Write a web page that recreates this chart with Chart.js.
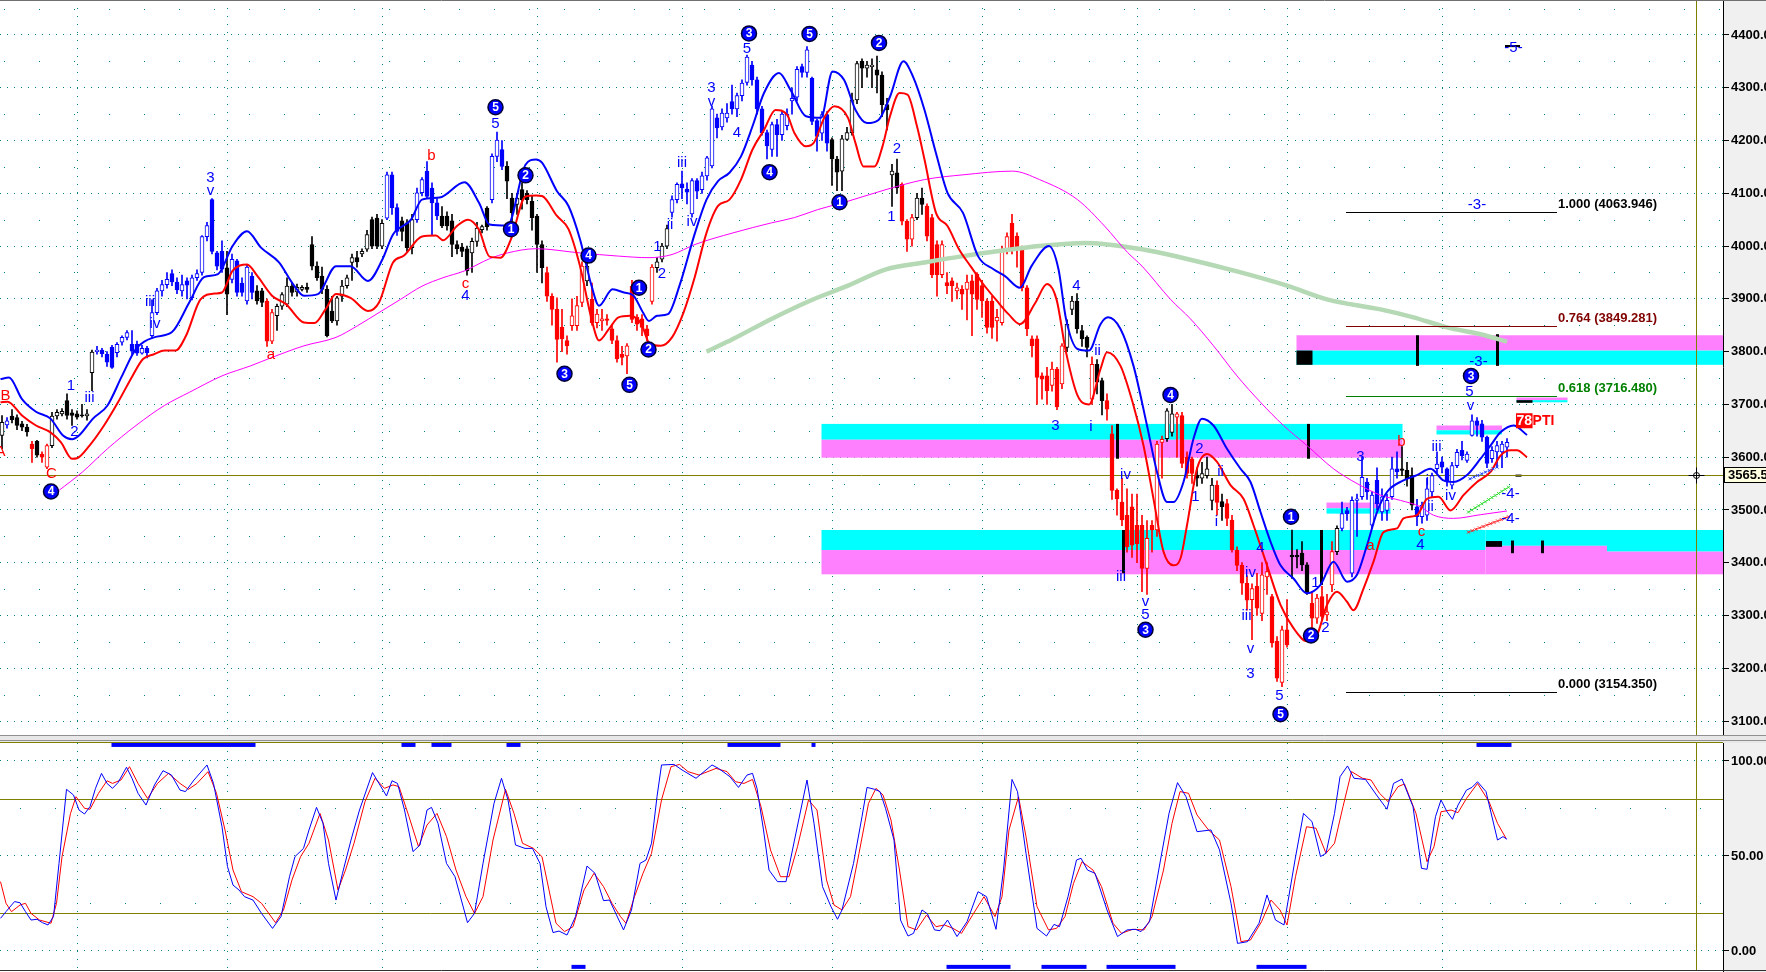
<!DOCTYPE html>
<html><head><meta charset="utf-8"><title>Elliott wave chart</title>
<script src="https://cdn.jsdelivr.net/npm/chart.js@4.4.1/dist/chart.umd.min.js"></script>
<style>
html,body{margin:0;padding:0;background:#fff;overflow:hidden;}
#wrap{position:relative;width:1766px;height:972px;background:#fff;}
canvas{position:absolute;left:0;display:block;}
#price{top:0;}
#osc{top:743px;}
</style></head><body>
<div id="wrap"><canvas id="price" width="1766" height="743"></canvas><canvas id="osc" width="1766" height="229"></canvas></div>
<script>
// ---------------- DATA ----------------
const opens = [
3641,3661,3678,3675,3663,3657,3625,3630,3606,3581,
3622,3678,3682,3707,3684,3682,3680,3678,3760,3800,
3803,3795,3808,3798,3818,3827,3814,3814,3797,3806,
3830,3874,3915,3927,3948,3932,3915,3934,3902,3940,
3950,4018,4088,3987,3990,3959,3937,3972,3930,3896,
3943,3915,3915,3896,3820,3868,3886,3890,3924,3913,
3918,3922,4003,3962,3943,3918,3877,3858,3905,3925,
3969,3978,3985,3994,4050,4053,4000,4053,4135,4073,
4048,4044,3997,4050,4101,4142,4110,4082,4057,4057,
4048,4003,3998,3995,3987,4009,4031,4072,4088,4170,
4183,4151,4091,4079,4107,4100,4085,4057,4003,3950,
3905,3880,3846,3821,3849,3849,3893,3934,3899,3855,
3858,3862,3843,3821,3795,3792,3924,3865,3862,3843,
3895,3959,3975,4000,4064,4088,4118,4108,4061,4124,
4107,4133,4152,4243,4226,4243,4274,4260,4285,4310,
4343,4315,4260,4215,4183,4230,4211,4228,4275,4282,
4340,4329,4318,4238,4214,4249,4202,4165,4142,4202,
4215,4277,4350,4337,4340,4334,4324,4268,4135,4139,
4117,4047,4013,4054,4091,4076,4054,4003,3946,3931,
3934,3915,3918,3918,3934,3947,3925,3896,3896,3858,
3855,3994,4043,4019,3994,3921,3824,3824,3754,3754,
3736,3767,3739,3808,3880,3896,3840,3827,3710,3776,
3745,3707,3644,3537,3515,3490,3506,3471,3471,3389,
3471,3462,3628,3635,3647,3676,3679,3600,3597,3566,
3560,3565,3518,3547,3516,3512,3481,3424,3395,3361,
3330,3355,3304,3373,3336,3251,3173,3273,3414,3414,
3418,3396,3323,3295,3336,3301,3358,3421,3465,3499,
3380,3518,3525,3553,3471,3556,3496,3499,3525,3578,
3578,3575,3565,3506,3487,3490,3534,3578,3591,3578,
3547,3584,3613,3594,3641,3669,3663,3638,3597,3610,
3610,3619];
const highs = [
3679,3675,3690,3680,3668,3662,3630,3632,3610,3625,
3685,3690,3692,3720,3690,3688,3700,3690,3803,3810,
3806,3800,3812,3817,3830,3840,3840,3820,3812,3810,
3898,3920,3935,3950,3955,3940,3945,3940,3945,3955,
4020,4045,4090,3990,4010,3990,3985,3975,3940,3965,
3950,3925,3920,3900,3880,3890,3912,3940,3930,3928,
3925,3930,4018,3970,3960,3925,3905,3905,3935,3945,
3985,3990,3995,4030,4055,4060,4050,4140,4140,4080,
4055,4050,4060,4110,4130,4160,4120,4090,4075,4065,
4060,4010,4005,4000,4015,4045,4040,4075,4175,4216,
4200,4160,4100,4100,4120,4105,4095,4060,4010,3960,
3910,3902,3880,3830,3900,3905,3970,3970,3930,3880,
3880,3870,3850,3830,3810,3815,3935,3870,3870,3850,
3965,3978,4005,4040,4095,4120,4142,4120,4128,4128,
4140,4170,4265,4250,4260,4270,4305,4290,4315,4362,
4350,4320,4265,4220,4235,4240,4255,4260,4300,4340,
4345,4378,4320,4240,4255,4255,4205,4170,4210,4225,
4290,4350,4355,4350,4355,4360,4330,4280,4155,4165,
4120,4050,4060,4100,4110,4080,4060,4010,4010,3950,
3940,3930,3925,3945,3945,3950,3935,3900,3905,3880,
4000,4025,4060,4025,4000,3925,3830,3830,3760,3770,
3780,3770,3815,3860,3905,3910,3850,3830,3790,3785,
3750,3720,3660,3540,3560,3540,3530,3530,3490,3480,
3480,3630,3640,3692,3700,3685,3685,3610,3600,3580,
3590,3600,3560,3555,3530,3520,3490,3430,3400,3375,
3360,3380,3400,3400,3340,3260,3280,3330,3462,3425,
3440,3400,3345,3340,3355,3340,3440,3470,3515,3505,
3525,3530,3600,3560,3535,3580,3540,3530,3600,3610,
3620,3590,3580,3520,3515,3560,3570,3610,3600,3580,
3590,3615,3630,3610,3680,3675,3670,3640,3620,3630,
3630,3635];
const lows = [
3616,3655,3665,3652,3650,3640,3590,3600,3590,3578,
3618,3672,3678,3672,3660,3672,3676,3670,3726,3795,
3790,3772,3768,3790,3812,3822,3795,3793,3795,3788,
3825,3870,3905,3920,3925,3910,3905,3900,3898,3935,
3945,4010,3985,3955,3950,3870,3930,3905,3905,3890,
3900,3890,3885,3810,3815,3840,3880,3885,3905,3905,
3915,3912,3955,3935,3910,3828,3855,3850,3895,3920,
3935,3960,3980,3990,3995,3995,3995,4050,4060,4020,
4010,3990,3985,4045,4095,4090,4020,4050,4035,4030,
3980,3985,3980,3945,3950,4000,4025,4030,4082,4160,
4145,4090,4040,4060,4070,4080,4030,3950,3930,3895,
3850,3780,3800,3795,3840,3840,3885,3925,3850,3845,
3840,3850,3815,3780,3775,3758,3855,3840,3830,3820,
3890,3950,3970,3995,4055,4082,4090,4080,4055,4090,
4100,4125,4148,4205,4220,4235,4250,4245,4275,4305,
4305,4250,4210,4165,4170,4170,4200,4220,4250,4275,
4320,4320,4230,4180,4200,4180,4115,4105,4105,4200,
4210,4270,4300,4320,4300,4290,4245,4220,4075,4100,
4040,3990,4000,4050,4060,4010,3940,3905,3940,3910,
3895,3900,3880,3860,3830,3880,3865,3835,3825,3820,
3850,3985,3985,3960,3915,3830,3790,3700,3710,3700,
3725,3690,3730,3800,3870,3835,3810,3790,3700,3720,
3680,3670,3520,3490,3470,3420,3410,3400,3345,3340,
3420,3450,3560,3630,3640,3600,3580,3560,3550,3545,
3550,3560,3500,3490,3480,3470,3420,3385,3340,3310,
3254,3300,3290,3340,3240,3175,3165,3240,3370,3390,
3385,3340,3270,3285,3290,3290,3345,3415,3460,3480,
3373,3450,3520,3520,3465,3500,3480,3480,3520,3560,
3565,3545,3500,3470,3475,3480,3525,3570,3570,3545,
3540,3580,3595,3590,3640,3640,3630,3580,3590,3580,
3580,3600];
const closes = [
3666,3669,3671,3660,3657,3648,3616,3604,3600,3622,
3678,3685,3687,3679,3679,3676,3678,3682,3799,3803,
3796,3780,3770,3814,3827,3836,3801,3797,3806,3798,
3874,3915,3927,3937,3932,3917,3927,3926,3940,3948,
4018,4039,3990,3962,3956,3909,3975,3912,3912,3960,
3912,3896,3893,3820,3874,3886,3908,3924,3912,3922,
3922,3918,3962,3940,3918,3830,3858,3902,3924,3940,
3978,3970,3990,4022,4000,4000,4043,4135,4073,4028,
4028,3997,4050,4101,4126,4094,4082,4057,4038,4038,
4003,3995,3990,3953,4009,4034,4037,4037,4170,4201,
4151,4123,4063,4091,4088,4088,4054,4003,3959,3905,
3880,3823,3824,3811,3868,3887,3962,3962,3855,3871,
3862,3859,3821,3786,3789,3811,3861,3852,3846,3830,
3960,3970,4000,4033,4088,4117,4110,4102,4124,4104,
4133,4167,4260,4224,4252,4252,4260,4285,4309,4358,
4315,4260,4215,4190,4230,4211,4250,4250,4280,4335,
4329,4372,4236,4208,4249,4195,4165,4140,4203,4215,
4277,4346,4337,4343,4343,4324,4268,4258,4142,4110,
4047,4013,4054,4091,4079,4019,3946,3946,4003,3925,
3925,3921,3909,3932,3909,3899,3896,3846,3846,3865,
3994,4018,3994,3994,3921,3843,3811,3751,3748,3726,
3767,3695,3811,3852,3896,3843,3824,3808,3776,3742,
3707,3691,3537,3521,3481,3430,3433,3436,3389,3446,
3462,3625,3634,3688,3682,3682,3588,3569,3569,3560,
3569,3578,3547,3514,3506,3484,3424,3395,3361,3329,
3351,3314,3377,3383,3248,3181,3273,3244,3411,3411,
3396,3345,3295,3333,3298,3307,3421,3465,3493,3493,
3518,3521,3562,3534,3528,3512,3525,3518,3578,3572,
3575,3559,3509,3487,3509,3540,3565,3587,3581,3553,
3584,3609,3603,3606,3669,3660,3638,3588,3613,3622,
3625,3628];
// wave-state colouring of each bar: K = neutral, B = impulse, R = corrective
const trendState =
"KBKKKKRKRR"+"KKKKKKKKKB"+"BBBBBBBBBB"+"BBBBBBBBBB"+"BBBBBKBBBB"+
"BKKRRKKKKK"+"KKKKKKKKKK"+"KKKKKKKBBB"+"KKKBBBBBKK"+"KKKKKKKKBB"+
"BKKKKKKKKR"+"RRRRRRRKRR"+"RRRRRRRRRR"+"RKKKBBBBBB"+"BBBBBBBBBB"+
"BBBBBBBBBB"+"BBBBBBKKKK"+"KKKKKKKKKK"+"RRRKKRRRRR"+"RRRRRRRRRR"+
"RRRRRRRRRR"+"RRRKKKKKRK"+"KRRRRRRRRR"+"RRRKKRRRRK"+"KKKRKRRRRR"+
"RRRRRRRRKK"+"KKRRRRRKBB"+"BBBBBBBBBB"+"KKKBBBBBBB"+"BBBBBBBBBB"+"BB";

// moving averages [bar, price]
const fastMA = [[-0.3,3748],[1.4,3751],[4,3710],[6.8,3686],[9.7,3673],[12.2,3641],[14,3634],[15.4,3641],[18.2,3673],[21.1,3698],[24,3754],[26.8,3805],[30.4,3827],[34,3837],[37.5,3894],[40.4,3941],[43.2,3947],[46.1,4000],[49,4028],[51.8,3997],[55.4,3969],[58.2,3928],[60.4,3906],[63.2,3909],[66.8,3962],[69.7,3962],[73.2,3934],[76.1,3975],[78.2,4022],[81.8,4050],[84,4088],[87.5,4092],[92.5,4121],[95.4,4082],[97.5,4041],[101.1,4039],[104.7,4154],[106.8,4164],[108,4158],[111,4104],[113.3,4076],[115.6,4013],[117.9,3925],[119.4,3887],[122.1,3918],[124.4,3912],[126.3,3906],[128.2,3874],[129.4,3858],[131,3868],[133.2,3871],[135.5,3925],[138.6,4025],[140.9,4088],[143.2,4123],[145.5,4139],[147.8,4170],[150.1,4227],[152.4,4290],[155.4,4328],[157.7,4296],[160.8,4246],[163.8,4243],[166.1,4331],[168.4,4315],[170.7,4258],[173,4233],[175.3,4239],[177.6,4283],[180.3,4350],[182.2,4321],[184.5,4258],[186.8,4176],[189.1,4101],[192.2,4063],[195.2,3981],[198.3,3956],[200.6,3943],[203.6,3921],[205.9,3962],[209.4,4000],[211.3,3956],[212.8,3862],[215.1,3805],[217.4,3802],[219.7,3852],[221.2,3865],[223.7,3843],[226.3,3773],[229,3660],[231,3572],[233,3515],[234.3,3515],[236.3,3553],[238.3,3635],[240,3673],[242.3,3660],[245,3616],[247.7,3578],[249.7,3553],[251.7,3496],[253.7,3440],[255.7,3395],[258.3,3370],[261,3342],[263.7,3358],[266.3,3402],[269,3364],[271,3377],[273,3433],[275,3496],[277,3534],[280.3,3556],[283,3566],[285.7,3578],[288.3,3556],[290.3,3553],[293,3566],[295.7,3597],[297.7,3622],[299.7,3647],[302.3,3660],[305,3642]];
const slowMA = [[-0.3,3704],[1.1,3705],[4,3679],[6.8,3660],[9.7,3647],[11.8,3628],[14,3597],[15,3598],[17.5,3622],[20.4,3660],[23.2,3704],[26.1,3754],[28.2,3786],[30.4,3795],[32.5,3802],[34.7,3802],[36.8,3830],[39.7,3899],[42.5,3910],[44,3912],[46.1,3953],[49,3965],[51.1,3943],[54,3906],[56.8,3890],[60.4,3855],[62.5,3854],[64.7,3880],[66.8,3909],[69.7,3902],[73.2,3877],[75.4,3893],[78.2,3969],[80.4,3982],[84,4018],[86.8,4020],[88.2,4011],[91.1,4039],[93.2,4050],[95.4,4031],[97.5,3980],[99.7,3978],[101.8,4013],[104.7,4094],[106.8,4096],[108,4095],[111,4057],[113.3,4032],[115.6,3962],[117.9,3862],[119.4,3821],[121.4,3843],[123.3,3865],[125.6,3868],[127.9,3852],[129.4,3817],[131.7,3811],[134,3827],[136.3,3874],[138.6,3943],[140.9,4025],[143.2,4076],[145.5,4088],[147.8,4126],[150.1,4183],[152.4,4220],[154.7,4258],[157,4249],[158.5,4214],[160.8,4189],[162.3,4195],[164.6,4246],[166.5,4265],[169.2,4243],[170.7,4195],[172.3,4151],[174.5,4151],[176.1,4189],[177.6,4246],[179.5,4290],[181.1,4287],[183,4227],[184.5,4164],[186.8,4063],[189.1,4038],[191.4,3994],[193.7,3962],[196,3931],[199,3896],[201.3,3871],[203.6,3852],[206.7,3893],[209,3928],[210.9,3899],[212.8,3799],[215.1,3717],[217.4,3700],[219.7,3767],[221,3799],[223.7,3773],[226.3,3698],[228.3,3622],[230.3,3521],[232.3,3421],[234.3,3395],[235.7,3408],[237,3471],[239,3578],[241,3606],[243,3591],[245.7,3547],[248.3,3521],[250.3,3471],[253,3395],[255.7,3320],[258.3,3276],[261,3251],[263,3263],[265,3320],[267,3345],[269,3326],[270.3,3310],[272.3,3351],[274.3,3402],[276.3,3458],[279,3465],[280.3,3484],[283,3490],[285,3521],[287.3,3525],[289.7,3499],[292.3,3528],[295,3553],[297.7,3572],[299.7,3603],[301.7,3613],[303,3613],[305,3600]];
const longMA = [[11.4,3537],[16.1,3572],[21.1,3616],[26.8,3660],[32.5,3698],[37.5,3723],[44,3754],[49.7,3773],[54,3789],[60.4,3811],[66.8,3827],[71.1,3849],[75.4,3874],[79.7,3899],[84,3924],[88.2,3940],[92.5,3953],[97.5,3976],[101.1,3987],[106.8,3995],[115.6,3987],[123.3,3981],[129.4,3978],[134,3984],[138.6,4003],[146.2,4025],[153.9,4044],[158.5,4054],[163.1,4069],[169.2,4085],[176.8,4107],[184.5,4126],[192.2,4135],[202.1,4142],[207.5,4126],[215.1,4088],[220.5,4038],[225.1,3988],[228,3962],[233.7,3899],[237.7,3862],[242.3,3811],[247,3754],[251.7,3704],[256.3,3660],[261,3622],[266.3,3578],[271,3550],[275.7,3528],[279.7,3518],[283.7,3506],[286.3,3490],[290.3,3484],[295.7,3491],[301,3498]];
const trendLine = [[140.9,3800],[146.2,3824],[153.9,3862],[161.5,3896],[169.2,3925],[176.8,3956],[184.5,3969],[192.2,3981],[199.8,3991],[207.5,4000],[216.6,4006],[228,3994],[236,3978],[247,3952],[257,3925],[265,3899],[275.7,3880],[282.3,3865],[289,3846],[295.7,3833],[301,3819]];

// stochastic oscillator [bar, value]
const stochK = [[-0.3,17.2],[0.8,20.7],[2.5,26],[3.6,25.4],[4.7,20.7],[5.8,16.3],[7,16.7],[8.1,14.9],[9.2,13.7],[10.3,18.1],[11.4,46.1],[12.9,85.1],[14.3,82.1],[15.4,74.2],[16.5,72.1],[17.6,76],[18.7,85.6],[19.9,93.5],[21,88.2],[22.1,85.6],[23.2,88.6],[24.9,96.7],[26,90.9],[27.2,83],[28.8,76.8],[30.5,87.4],[32.2,94.9],[33.9,92.6],[35.6,84.7],[36.7,83.9],[38.4,90],[41,97.9],[42.3,88.2],[44,65.4],[45.1,44.4],[46.2,34.7],[47.4,32.1],[48.5,28.6],[50.2,26.8],[51.9,19.8],[54.1,11.9],[55.8,18.1],[57.5,39.1],[58.6,49.7],[60.3,54],[61.4,63.7],[62.9,75.6],[64.2,67.2],[65.3,46.1],[66.8,26.8],[68.1,40.9],[69.8,58.4],[71.5,74.2],[74.1,93.9],[75.4,88.2],[76.9,81.6],[78,89.6],[79.1,88.2],[80.5,74.2],[82.2,52.3],[83.6,55.8],[85,74.2],[85.9,75.6],[87.2,67.2],[88.9,46.1],[90.6,39.1],[93.1,14.9],[94.5,19.8],[96.2,46.1],[98.4,77.7],[99.9,90.9],[101.2,79.5],[102.7,55.8],[104.6,54],[106.1,54],[107.6,46.1],[108.8,23.3],[110.2,9.7],[111.4,10.5],[113,8.4],[114.7,18.1],[117,44.7],[118.6,40.9],[120.3,26.5],[121.5,26.8],[124.3,11.1],[125.9,21.6],[127.6,46.1],[128.8,47.9],[129.9,56.7],[131,81.2],[131.9,97.9],[134.4,98.2],[136,95.3],[138.8,90.9],[142,97.9],[143.3,96.1],[145.6,91.7],[147.3,86.1],[149,92.6],[150.1,93.5],[151,85.6],[152.3,63.7],[153.4,42.6],[155.1,36.5],[156.8,36.5],[158.5,58.4],[161,90],[162.4,67.2],[164.1,33.9],[165.8,23.3],[167.1,16.7],[168,21.6],[170.3,46.1],[172,70.7],[173,86.1],[174.5,85.1],[175.6,83.9],[176.7,75.1],[178.4,58.4],[179.7,16.3],[181.2,7.9],[182.3,9.3],[184,21.6],[185.1,19.5],[186.5,11.1],[187.6,10.7],[189.1,16.3],[191,7.6],[193,15.4],[195.2,31.2],[196.9,28.6],[198.8,11.4],[200.3,42.6],[202,90.3],[203.1,83.9],[204.8,51.4],[207,11.9],[208.9,7.9],[210.4,14],[211.5,12.8],[213.2,28.6],[214.9,47.9],[215.8,48.8],[217.1,42.6],[218.6,40.9],[221,21.6],[223.1,7.6],[225,11.1],[226.7,11.4],[227.8,10.2],[229.5,15.4],[231.7,47.9],[233.4,72.4],[235.1,88.6],[236.8,81.2],[239,62.8],[241.8,63.7],[243.5,53.2],[245.8,25.1],[247.1,4],[249.1,4.9],[251.4,14.6],[253,29.5],[254.7,16.3],[256.4,13.7],[258.6,47.9],[260.3,72.4],[262,68.1],[263.7,49.7],[264.8,51.4],[266.5,72.4],[267.6,91.7],[269.1,97.4],[270.4,90.9],[272.7,90.3],[274.9,82.1],[277,74.6],[278.3,88.2],[280,90.5],[282.2,76],[283.9,43.5],[285,43],[286.7,70.7],[287.8,79.5],[289,73.3],[290.1,69.3],[291.2,76.8],[292.9,84.7],[294,86.1],[295.1,89.1],[296.8,83.9],[299.1,58.4],[300.2,60.2],[301,58.8]];
const stochD = [[-0.3,36.5],[0.8,25.1],[1.9,20.7],[3.6,24.2],[4.7,25.1],[5.8,19.8],[7.5,16.3],[9.8,14.6],[10.9,25.1],[12,49.6],[13.7,72.4],[14.8,81.2],[16.5,75.1],[17.6,74.6],[19.3,83],[21,89.6],[22.1,88.2],[23.8,90],[25.5,97],[27.2,88.2],[29.1,80.3],[31.1,88.2],[33.3,93.5],[35.6,88.2],[37.3,85.1],[39,88.2],[41.2,94.4],[42.9,83],[44.6,63.7],[46.2,42.6],[47.9,31.2],[50.2,28.6],[51.9,25.1],[54.7,14.9],[56.3,21.6],[58,37.4],[59.7,49.6],[61.4,56.7],[63.6,72.4],[65.3,58.4],[67.2,32.1],[68.7,42.6],[70.4,56.7],[72.6,78.6],[74.6,90.9],[76.5,85.6],[78.2,87.4],[79.4,86.5],[81.4,70.7],[83.3,54.9],[85,66.3],[87,72.4],[88.9,60.2],[90.8,42.6],[92.8,28.6],[94.5,19.8],[96.2,28.6],[98.2,58.4],[100.7,85.1],[102.4,72.4],[104.1,56.7],[106.3,54],[108,49.6],[109.4,32.1],[110.8,14.6],[112.5,10.2],[114.2,12.8],[116.4,32.1],[118.4,40.9],[120.3,33.9],[122,25.1],[123.7,18.1],[124.8,14.6],[126.5,28.6],[128.2,40.9],[129.9,51.4],[131.9,79.5],[133.8,97],[135.5,98.2],[137.2,94.4],[139.4,92.6],[142.8,96.1],[145,94.4],[146.7,89.1],[148.4,88.2],[150.1,90.3],[151.8,76],[153.7,53.2],[155.7,39.1],[157.4,39.1],[159.1,54.9],[161.3,79.5],[163,74.2],[164.9,37.4],[166.4,24.2],[168,21.6],[169.7,28.6],[171.4,51.4],[173.3,77.7],[174.8,85.6],[176.2,82.1],[177.8,68.9],[179.5,42.6],[181.2,12.8],[182.9,11.1],[184.9,18.9],[186.8,12.8],[188.5,13.7],[190.2,11.9],[191.9,9.3],[193.5,16.3],[196.4,28.6],[198.6,18.1],[200,28.6],[201.4,63.7],[203.3,81.2],[204.8,60.2],[207,23.3],[209.3,11.1],[210.9,11.9],[212.6,18.1],[214.3,35.6],[216,47],[218.2,42.6],[219.9,33.9],[222.2,14.6],[223.9,9.3],[226.1,11.4],[228.4,11.1],[230,18.1],[232.3,42.6],[234,67.2],[235.6,83.9],[237.3,83],[239,71.6],[241.3,63.7],[243.5,58.4],[245.8,33.9],[247.8,4.9],[249.7,5.8],[251.9,15.4],[253.8,26.8],[255.6,21.6],[257,13.7],[258.7,39.1],[260.9,65.4],[262.8,64.6],[264.8,51.4],[266.5,56.7],[268.2,76],[269.9,94.4],[272.1,90.9],[273.8,90],[275.5,83],[277.2,78.6],[279.2,86.5],[280.5,87.9],[282.8,72.4],[285,47],[286.4,54.9],[287.8,73.3],[289.8,74.2],[291.2,72.8],[292.9,80.3],[295.1,88.2],[297.4,78.6],[299.1,67.2],[300.8,59.3]];
// oscillator signal strips [fromBar, toBar]
const signalTop = [[21.9,50.7],[79.9,82.7],[85.9,89.9],[100.9,103.7],[145.1,155.7],[161.9,162.7],[294.9,301.9]];
const signalBottom = [[113.9,116.7],[188.9,201.7],[207.9,216.9],[220.9,234.7],[250.9,260.9]];

// tick values
const priceTicks = [3100,3200,3300,3400,3500,3600,3700,3800,3900,4000,4100,4200,4300,4400];
const priceHalfTicks = [3150,3250,3350,3450,3550,3650,3750,3850,3950,4050,4150,4250,4350,4450];
const oscTicks = [0,50,100];
const oscHalfTicks = [25,75];
const oscBands = [20,80];
const gridBars = [15,45,76,107,136,166,196,227,257,288];

// fibonacci projection
const fibRatios = [1.000, 0.764, 0.618, 0.000];
const fibPrices = [4063.946, 3849.281, 3716.480, 3154.350];
const fibSpan = [268.8, 311];

// support / resistance zones [fromBar, toBar, top, bottom, kind]  c = cyan, m = magenta, k = black
const zones = [
 [258.9,345,3831,3802,'m'],[258.9,345,3802,3775,'c'],[258.9,262.1,3802,3775,'k'],
 [163.9,280.1,3663,3633,'c'],[163.9,280.1,3633,3599,'m'],
 [163.9,296.7,3462,3424,'c'],[163.9,296.7,3424,3378,'m'],
 [296.7,321,3462,3432,'c'],[296.7,321,3432,3378,'m'],
 [321,345,3462,3421,'c'],[321,345,3421,3378,'m'],
 [296.8,300,3441,3430,'k'],
 [286.9,300,3660,3651,'m'],[286.9,300,3651,3643,'c'],
 [264.9,277.7,3514,3503,'m'],[264.9,277.7,3503,3493,'c'],
 [302.9,313.1,3713,3708,'m'],[302.9,313.1,3708,3704,'c'],[302.9,306.1,3708,3703,'k'],
 [302.7,303.9,3567,3563,'k'],[300.6,303.6,4381,4377,'k']
];
// zone edge markers [bar, top, bottom]
const zoneMarks = [[282.9,3831,3773],[298.9,3833,3773],[222.9,3663,3597],[261.1,3663,3597],[224.1,3462,3380],[263.9,3462,3358],[302,3442,3418],[307.9,3442,3418]];

// Elliott wave labels [bar, price, text]
const waveBlue = [[13.8,3735,'1'],[14.5,3648,'2'],[17.5,3712,'iii'],[29.6,3894,'iii'],[30.6,3852,'iv'],[41.7,4130,'3'],[41.7,4104,'v'],[92.7,3906,'4'],[98.7,4231,'5'],[131.1,3998,'1'],[132,3947,'2'],[133.6,4041,'ii'],[136,4158,'iii'],[138,4045,'iv'],[141.9,4300,'3'],[141.9,4274,'v'],[147,4215,'4'],[149,4373,'5'],[177.9,4056,'1'],[179,4185,'2'],[210.7,3660,'3'],[214.9,3924,'4'],[217.8,3657,'i'],[219.1,3802,'ii'],[223.8,3374,'iii'],[224.7,3567,'iv'],[228.7,3325,'v'],[228.7,3302,'5'],[238.7,3525,'1'],[239.5,3616,'2'],[242.9,3478,'i'],[243.7,3572,'ii'],[248.9,3300,'iii'],[249.7,3380,'iv'],[249.7,3236,'v'],[249.7,3189,'3'],[251.7,3429,'4'],[255.5,3147,'5'],[262.7,3361,'1'],[264.7,3276,'2'],[271.7,3601,'3'],[283.7,3433,'4'],[285.1,3556,'i'],[285.7,3506,'ii'],[286.9,3619,'iii'],[289.7,3527,'iv'],[293.7,3697,'v'],[293.5,3723,'5'],[295.3,3780,'-3-'],[295,4078,'-3-'],[301.7,3531,'-4-'],[301.7,3484,'-4-'],[302.3,4376,'-5-']];
const waveRed = [[0.7,3717,'B'],[-0.3,3610,'A'],[9.9,3569,'C'],[53.8,3793,'a'],[85.9,4171,'b'],[92.7,3928,'c'],[273.7,3431,'a'],[279.9,3629,'b'],[283.9,3459,'c']];
const waveCircled = [[9.8,3535,'4'],[98.7,4263,'5'],[101.8,4032,'1'],[104.7,4134,'2'],[112.5,3758,'3'],[117.3,3982,'4'],[125.5,3737,'5'],[127.4,3921,'1'],[129.3,3804,'2'],[149.4,4403,'3'],[153.5,4140,'4'],[161.5,4402,'5'],[167.5,4083,'1'],[175.4,4385,'2'],[228.7,3273,'3'],[233.7,3718,'4'],[255.7,3113,'5'],[257.8,3487,'1'],[261.8,3262,'2'],[293.8,3754,'3']];
// small trend projection segments [bar, price]
const projGreen = [[293.3,3496],[301.3,3543]];
const projRed = [[293.3,3458],[301.3,3487]];
const projBlue = [[293.6,3559],[299,3581]];
const ptiLabel = [302.8, 3669, '78', 'PTI'];
const cursorBar = 338.8;
const cursorPrice = 3565.5;

// ---------------- CHART ----------------
const FONT = '"Liberation Sans", Arial, sans-serif';
Chart.defaults.font.family = FONT;
const X_MIN = -0.4, X_MAX = 344.2;
const GOLD = '#808000', TEAL = '#008080';
const STATE_COLORS = { K: '#000000', B: '#0000ff', R: '#ff0000' };
const colOf = i => STATE_COLORS[trendState[i]] || '#000000';
const pts = arr => arr.map(p => ({ x: p[0], y: p[1] }));

function sx(ch, v) { return ch.scales.x.getPixelForValue(v); }
function sy(ch, v) { return ch.scales.y.getPixelForValue(v); }
function clipArea(ch) { const a = ch.chartArea; ch.ctx.beginPath(); ch.ctx.rect(a.left, a.top, a.right - a.left, a.bottom - a.top); ch.ctx.clip(); }

const xScaleOpts = {
  type: 'linear', min: X_MIN, max: X_MAX, offset: false,
  afterBuildTicks: s => { s.ticks = gridBars.map(v => ({ value: v })); },
  afterFit: s => { s.height = 0; },
  ticks: { display: false },
  grid: { color: TEAL, drawTicks: false, offset: false, lineWidth: 1 },
  border: { display: false, dash: [1, 7] }
};

const candleWicks = {
  type: 'bar', label: 'wick', order: 6, grouped: false,
  data: highs.map((h, i) => ({ x: i, y: [lows[i], h] })),
  backgroundColor: highs.map((h, i) => colOf(i)),
  borderWidth: 0, barThickness: 1
};
const candleBodies = {
  type: 'bar', label: 'body', order: 5, grouped: false,
  data: closes.map((c, i) => ({ x: i, y: [Math.min(opens[i], c), Math.max(opens[i], c)] })),
  backgroundColor: closes.map((c, i) => c > opens[i] ? '#ffffff' : colOf(i)),
  borderColor: closes.map((c, i) => colOf(i)),
  borderWidth: 1, borderSkipped: false, barThickness: 4, minBarLength: 1
};
const lineDs = (data, color, width, order, extra) => Object.assign({
  type: 'line', data: pts(data), borderColor: color, borderWidth: width,
  pointRadius: 0, fill: false, order: order, tension: 0.2, cubicInterpolationMode: 'monotone'
}, extra || {});

const pricePlugin = {
  id: 'pricePlugin',
  beforeDraw(ch) {
    const c = ch.ctx, a = ch.chartArea;
    c.save();
    c.fillStyle = '#ffffff'; c.fillRect(0, 0, ch.width, ch.height);
    c.fillStyle = '#f0f0f0'; c.fillRect(a.right, 0, ch.width - a.right, a.bottom);
    c.restore();
  },
  beforeDatasetsDraw(ch) {
    const c = ch.ctx, a = ch.chartArea;
    c.save(); clipArea(ch);
    c.strokeStyle = TEAL; c.lineWidth = 1; c.setLineDash([1, 34]);
    priceHalfTicks.forEach(v => { const y = Math.round(sy(ch, v)) + 0.5; c.beginPath(); c.moveTo(a.left + 4, y); c.lineTo(a.right, y); c.stroke(); });
    c.setLineDash([]);
    const zc = { c: '#00ffff', m: '#ff80ff', k: '#000000' };
    zones.forEach(z => {
      const x0 = sx(ch, z[0]), x1 = sx(ch, z[1]), y0 = sy(ch, z[2]), y1 = sy(ch, z[3]);
      c.fillStyle = zc[z[4]]; c.fillRect(x0, y0, x1 - x0, y1 - y0);
    });
    c.fillStyle = '#000';
    zoneMarks.forEach(m => { const x = sx(ch, m[0]), y0 = sy(ch, m[1]), y1 = sy(ch, m[2]); c.fillRect(Math.round(x) - 1, y0, 3, y1 - y0); });
    c.strokeStyle = GOLD; c.lineWidth = 1;
    const yc = Math.round(sy(ch, cursorPrice)) + 0.5;
    c.beginPath(); c.moveTo(a.left, yc); c.lineTo(a.right, yc); c.stroke();
    c.restore();
    c.save();
    const xc = Math.round(sx(ch, cursorBar)) + 0.5;
    c.strokeStyle = GOLD; c.beginPath(); c.moveTo(xc, 0); c.lineTo(xc, a.bottom); c.stroke();
    c.restore();
  },
  afterDatasetsDraw(ch) {
    const c = ch.ctx, a = ch.chartArea;
    c.save(); clipArea(ch);
    [[projGreen, '#33dd33'], [projRed, '#ff2020'], [projBlue, '#2040ff']].forEach(([seg, col]) => {
      const x0 = sx(ch, seg[0][0]), y0 = sy(ch, seg[0][1]), x1 = sx(ch, seg[1][0]), y1 = sy(ch, seg[1][1]);
      c.strokeStyle = col; c.lineWidth = 1; c.setLineDash([2, 2]);
      c.beginPath(); c.moveTo(x0, y0); c.lineTo(x1, y1); c.stroke();
      c.setLineDash([]);
      const n = Math.max(2, Math.round(Math.hypot(x1 - x0, y1 - y0) / 4));
      c.beginPath();
      for (let k = 0; k <= n; k++) {
        const x = x0 + (x1 - x0) * k / n, y = y0 + (y1 - y0) * k / n;
        c.moveTo(x - 1.5, y - 1.5); c.lineTo(x + 1.5, y + 1.5); c.moveTo(x - 1.5, y + 1.5); c.lineTo(x + 1.5, y - 1.5);
      }
      c.stroke();
    });
    const fibCols = ['#000000', '#800000', '#008000', '#000000'];
    c.font = 'bold 13px ' + FONT; c.textAlign = 'left'; c.textBaseline = 'middle';
    fibPrices.forEach((p, k) => {
      const y = Math.round(sy(ch, p)) + 0.5, x0 = sx(ch, fibSpan[0]), x1 = sx(ch, fibSpan[1]);
      c.strokeStyle = fibCols[k]; c.lineWidth = 1;
      c.beginPath(); c.moveTo(x0, y); c.lineTo(x1, y); c.stroke();
      c.fillStyle = fibCols[k];
      c.fillText(fibRatios[k].toFixed(3) + ' (' + p.toFixed(3) + ')', x1 + 1, y - 8);
    });
    c.font = '15px ' + FONT; c.textAlign = 'center'; c.textBaseline = 'middle';
    c.fillStyle = '#0000ff';
    waveBlue.forEach(w => c.fillText(w[2], sx(ch, w[0]), sy(ch, w[1])));
    c.fillStyle = '#ff0000';
    waveRed.forEach(w => c.fillText(w[2], sx(ch, w[0]), sy(ch, w[1])));
    c.font = 'bold 12px ' + FONT;
    waveCircled.forEach(w => {
      const x = sx(ch, w[0]), y = sy(ch, w[1]);
      c.beginPath(); c.arc(x, y, 7.5, 0, Math.PI * 2);
      c.fillStyle = '#0000ff'; c.fill();
      c.lineWidth = 1.5; c.strokeStyle = '#000033'; c.stroke();
      c.fillStyle = '#ffffff'; c.fillText(w[2], x, y + 0.5);
    });
    const px = sx(ch, ptiLabel[0]), py = sy(ch, ptiLabel[1]);
    c.font = 'bold 14px ' + FONT; c.textAlign = 'left';
    const w78 = c.measureText(ptiLabel[2]).width;
    c.fillStyle = '#ff0000'; c.fillRect(px, py - 7.5, w78 + 1, 15);
    c.fillStyle = '#ffffff'; c.fillText(ptiLabel[2], px + 0.5, py + 0.5);
    c.fillStyle = '#ff0000'; c.fillText(ptiLabel[3], px + w78 + 1, py + 0.5);
    c.restore();
  },
  afterDraw(ch) {
    const c = ch.ctx, a = ch.chartArea;
    c.save();
    c.strokeStyle = '#000'; c.lineWidth = 1;
    c.beginPath(); c.moveTo(a.right + 0.5, 0); c.lineTo(a.right + 0.5, a.bottom); c.stroke();
    c.strokeStyle = '#707070';
    c.beginPath(); c.moveTo(0, 0.5); c.lineTo(ch.width, 0.5); c.stroke();
    const y = Math.round(sy(ch, cursorPrice));
    c.fillStyle = '#ffffe1'; c.fillRect(a.right + 1, y - 8, ch.width - a.right, 16);
    c.strokeStyle = '#000'; c.strokeRect(a.right + 1.5, y - 7.5, ch.width - a.right, 15);
    c.fillStyle = '#000'; c.font = 'bold 13px ' + FONT; c.textAlign = 'left'; c.textBaseline = 'middle';
    c.fillText(cursorPrice.toFixed(1), a.right + 5, y + 0.5);
    const xc = Math.round(sx(ch, cursorBar)) + 0.5, yc = y + 0.5;
    c.strokeStyle = '#000'; c.lineWidth = 1;
    c.beginPath(); c.moveTo(xc - 8, yc); c.lineTo(xc + 8, yc); c.moveTo(xc, yc - 8); c.lineTo(xc, yc + 8); c.stroke();
    c.beginPath(); c.arc(xc, yc, 3, 0, Math.PI * 2); c.stroke();
    const b = a.bottom;
    c.fillStyle = '#e8e8e8'; c.fillRect(0, b, ch.width, ch.height - b);
    c.strokeStyle = '#909090';
    c.beginPath(); c.moveTo(0, b + 0.5); c.lineTo(ch.width, b + 0.5); c.stroke();
    c.beginPath(); c.moveTo(0, b + 5.5); c.lineTo(ch.width, b + 5.5); c.stroke();
    c.strokeStyle = GOLD;
    c.beginPath(); c.moveTo(0, ch.height - 0.5); c.lineTo(a.right, ch.height - 0.5); c.stroke();
    c.restore();
  }
};

new Chart(document.getElementById('price'), {
  type: 'bar',
  data: {
    datasets: [
      candleWicks, candleBodies,
      lineDs(trendLine, '#b4d9b4', 4.5, 4, { tension: 0.3 }),
      lineDs(longMA, '#ff00ff', 1, 3),
      lineDs(slowMA, '#ff0000', 2, 2),
      lineDs(fastMA, '#0000ff', 2, 1)
    ]
  },
  options: {
    responsive: false, animation: false, devicePixelRatio: 1,
    layout: { padding: { left: 0, right: 0, top: 0, bottom: 8 } },
    plugins: { legend: { display: false }, tooltip: { enabled: false } },
    scales: {
      x: xScaleOpts,
      y: {
        type: 'linear', position: 'right', min: 3073.5, max: 4466.3,
        afterBuildTicks: s => { s.ticks = priceTicks.map(v => ({ value: v })); },
        afterFit: s => { s.width = 43; s.paddingTop = 0; s.paddingBottom = 0; },
        ticks: { autoSkip: false, padding: 2, color: '#000', font: { family: FONT, size: 13, weight: 'bold' }, callback: v => Number(v).toFixed(1) },
        grid: { color: TEAL, tickColor: '#000', tickLength: 6, lineWidth: 1 },
        border: { display: false, dash: [1, 6] }
      }
    }
  },
  plugins: [pricePlugin]
});

const oscPlugin = {
  id: 'oscPlugin',
  beforeDraw(ch) {
    const c = ch.ctx, a = ch.chartArea;
    c.save();
    c.fillStyle = '#ffffff'; c.fillRect(0, 0, ch.width, ch.height);
    c.fillStyle = '#f0f0f0'; c.fillRect(a.right, 0, ch.width - a.right, ch.height);
    c.restore();
  },
  beforeDatasetsDraw(ch) {
    const c = ch.ctx, a = ch.chartArea;
    c.save(); clipArea(ch);
    c.strokeStyle = TEAL; c.lineWidth = 1; c.setLineDash([1, 34]);
    oscHalfTicks.forEach(v => { const y = Math.round(sy(ch, v)) + 0.5; c.beginPath(); c.moveTo(a.left + 20, y); c.lineTo(a.right, y); c.stroke(); });
    c.setLineDash([]);
    c.strokeStyle = GOLD;
    oscBands.forEach(v => { const y = Math.round(sy(ch, v)) + 0.5; c.beginPath(); c.moveTo(a.left, y); c.lineTo(a.right, y); c.stroke(); });
    const xc = Math.round(sx(ch, cursorBar)) + 0.5;
    c.beginPath(); c.moveTo(xc, a.top); c.lineTo(xc, a.bottom); c.stroke();
    c.fillStyle = '#0000ff';
    signalTop.forEach(s => { const x0 = sx(ch, s[0]), x1 = sx(ch, s[1]); c.fillRect(x0, sy(ch, 109.5), x1 - x0, sy(ch, 107.4) - sy(ch, 109.5)); });
    signalBottom.forEach(s => { const x0 = sx(ch, s[0]), x1 = sx(ch, s[1]); c.fillRect(x0, sy(ch, -7.3), x1 - x0, sy(ch, -9.4) - sy(ch, -7.3)); });
    c.restore();
  },
  afterDraw(ch) {
    const c = ch.ctx, a = ch.chartArea;
    c.save();
    c.strokeStyle = '#000'; c.lineWidth = 1;
    c.beginPath(); c.moveTo(a.right + 0.5, 0); c.lineTo(a.right + 0.5, ch.height); c.stroke();
    c.strokeStyle = '#303030';
    c.beginPath(); c.moveTo(0, a.bottom + 0.5); c.lineTo(ch.width, a.bottom + 0.5); c.stroke();
    c.fillStyle = '#ffffff'; c.fillRect(0, a.bottom + 1, a.right, ch.height - a.bottom - 1);
    c.restore();
  }
};

new Chart(document.getElementById('osc'), {
  type: 'line',
  data: {
    datasets: [
      { data: pts(stochD), borderColor: '#ff0000', borderWidth: 1, pointRadius: 0, fill: false, tension: 0, order: 2 },
      { data: pts(stochK), borderColor: '#0000ff', borderWidth: 1, pointRadius: 0, fill: false, tension: 0, order: 1 }
    ]
  },
  options: {
    responsive: false, animation: false, devicePixelRatio: 1,
    layout: { padding: { left: 0, right: 0, top: 0, bottom: 2 } },
    plugins: { legend: { display: false }, tooltip: { enabled: false } },
    scales: {
      x: xScaleOpts,
      y: {
        type: 'linear', position: 'right', min: -10, max: 109.47,
        afterBuildTicks: s => { s.ticks = oscTicks.map(v => ({ value: v })); },
        afterFit: s => { s.width = 43; s.paddingTop = 0; s.paddingBottom = 0; },
        ticks: { autoSkip: false, padding: 2, color: '#000', font: { family: FONT, size: 13, weight: 'bold' }, callback: v => Number(v).toFixed(2) },
        grid: { color: TEAL, tickColor: '#000', tickLength: 6, lineWidth: 1 },
        border: { display: false, dash: [1, 6] }
      }
    }
  },
  plugins: [oscPlugin]
});
</script>
</body></html>
